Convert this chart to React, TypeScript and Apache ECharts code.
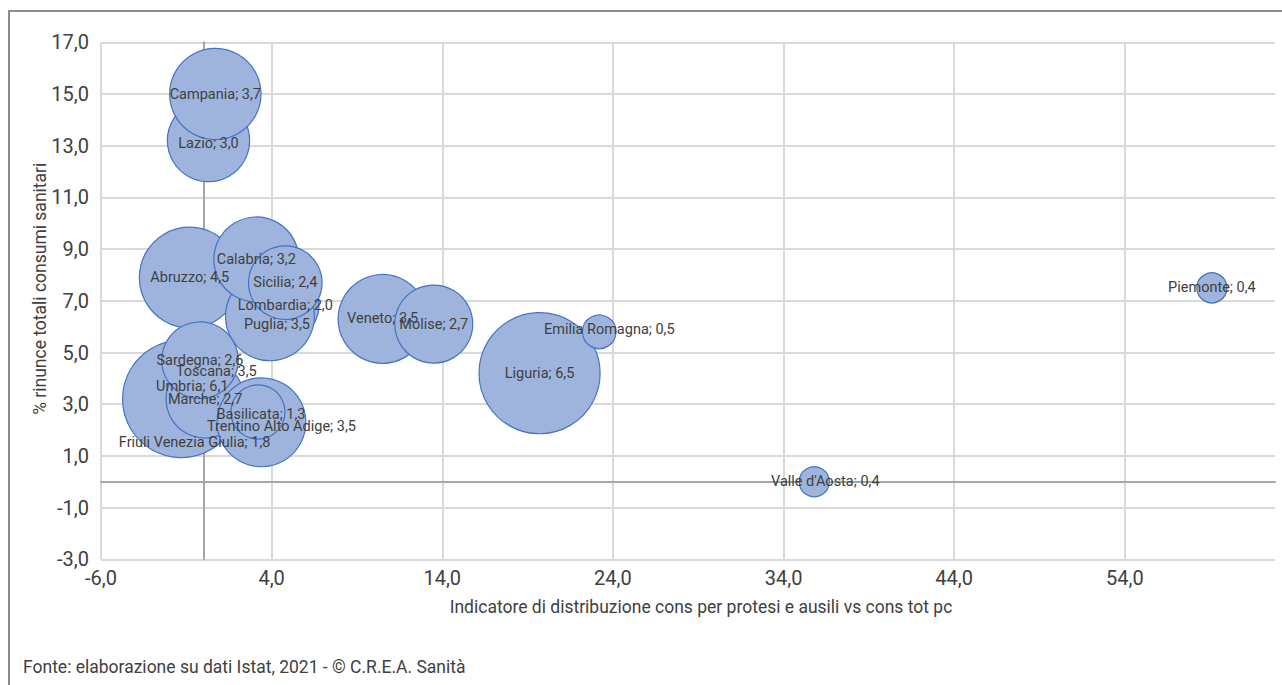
import React, { useEffect, useRef } from "react";
import * as echarts from "echarts";

// Regions, in drawing order (later bubbles sit on top of earlier ones)
const regions = [
  "Lazio", "Campania", "Abruzzo", "Lombardia", "Puglia", "Calabria", "Sicilia",
  "Veneto", "Molise", "Liguria", "Emilia Romagna", "Piemonte", "Valle d'Aosta",
  "Toscana", "Friuli Venezia Giulia", "Umbria", "Marche", "Sardegna",
  "Trentino Alto Adige", "Basilicata",
];
// Indicatore di distribuzione cons per protesi e ausili vs cons tot pc
const distribution = [
  0.3, 0.7, -0.8, 4.8, 3.9, 3.1, 4.8,
  10.5, 13.5, 19.7, 23.2, 59.1, 35.8,
  -1.0, -1.1, -1.3, 0.1, -0.2,
  3.4, 3.2,
];
// % rinunce totali consumi sanitari
const renunciation = [
  13.2, 15.0, 7.9, 6.8, 6.4, 8.6, 7.7,
  6.3, 6.1, 4.2, 5.8, 7.5, 0.0,
  3.4, 2.6, 3.2, 3.2, 4.7,
  2.3, 2.7,
];
// Bubble size values
const bubbleSize = [
  3.0, 3.7, 4.5, 2.0, 3.5, 3.2, 2.4,
  3.5, 2.7, 6.5, 0.5, 0.4, 0.4,
  3.5, 1.8, 6.1, 2.7, 2.6,
  3.5, 1.3,
];

const xTicks = [-6, 4, 14, 24, 34, 44, 54];
const yTicks = [-3, -1, 1, 3, 5, 7, 9, 11, 13, 15, 17];

const X_MIN = -6;
const X_MAX = 62.8;
const Y_MIN = -3;
const Y_MAX = 17;

// Pixel nudges for crowded labels
const labelShift: Record<string, [number, number]> = {
  Lazio: [0, 3],
  Puglia: [7, 8],
  "Emilia Romagna": [10, -2],
  "Valle d'Aosta": [11, 0],
  Toscana: [30, -22],
  "Friuli Venezia Giulia": [10, 28],
  Umbria: [11, -13],
  "Trentino Alto Adige": [20, 4],
  Basilicata: [3, 3],
};

const FONT = "Roboto, 'Liberation Sans', sans-serif";
const TEXT = "#404040";
const GRID = "#d9d9d9";
const ZERO = "#a6a6a6";

const fmt = (v: number) => v.toFixed(1).replace(".", ",");

export default function App() {
  const ref = useRef<HTMLDivElement>(null);

  useEffect(() => {
    if (!ref.current) return;
    const chart = echarts.init(ref.current, null, { renderer: "svg" });

    const points = regions.map((name, i) => {
      const shift = labelShift[name];
      return {
        name,
        value: [distribution[i], renunciation[i], bubbleSize[i]],
        label: shift ? { offset: shift } : undefined,
      };
    });

    const hiddenAxisParts = {
      axisTick: { show: false },
      axisLabel: { show: false },
      splitLine: { show: false },
    };

    chart.setOption({
      animation: false,
      grid: {
        left: 101,
        top: 42.3,
        right: 7,
        bottom: 125.7,
        outerBoundsMode: "none",
      },
      xAxis: [
        {
          type: "value",
          min: X_MIN,
          max: X_MAX,
          position: "bottom",
          axisLine: { show: false, onZero: false },
          axisTick: { show: false, customValues: xTicks },
          splitLine: { show: true, lineStyle: { color: GRID, width: 2 } },
          axisLabel: {
            customValues: xTicks,
            formatter: (v: number) => fmt(v),
            color: TEXT,
            fontFamily: FONT,
            fontSize: 20,
            margin: 9,
          },
          name: "Indicatore di distribuzione cons per protesi e ausili vs cons tot pc",
          nameLocation: "middle",
          nameGap: 39,
          nameMoveOverlap: false,
          nameTextStyle: {
            color: TEXT,
            fontFamily: FONT,
            fontSize: 17.5,
            padding: [0, 0, 0, 26],
          },
        },
        {
          type: "value",
          min: X_MIN,
          max: X_MAX,
          position: "bottom",
          axisLine: { show: true, onZero: true, onZeroAxisIndex: 0, lineStyle: { color: ZERO, width: 2 } },
          ...hiddenAxisParts,
        },
      ],
      yAxis: [
        {
          type: "value",
          min: Y_MIN,
          max: Y_MAX,
          position: "left",
          axisLine: { show: false, onZero: false },
          axisTick: { show: false, customValues: yTicks },
          splitLine: { show: true, lineStyle: { color: GRID, width: 2 } },
          axisLabel: {
            customValues: yTicks,
            formatter: (v: number) => fmt(v),
            color: TEXT,
            fontFamily: FONT,
            fontSize: 20,
            margin: 12,
          },
          name: "% rinunce totali consumi sanitari",
          nameLocation: "middle",
          nameRotate: 90,
          nameGap: 52,
          nameMoveOverlap: false,
          nameTextStyle: {
            color: TEXT,
            fontFamily: FONT,
            fontSize: 17.5,
            padding: [0, 0, 0, 24],
          },
        },
        {
          type: "value",
          min: Y_MIN,
          max: Y_MAX,
          position: "left",
          axisLine: { show: true, onZero: true, onZeroAxisIndex: 0, lineStyle: { color: ZERO, width: 2 } },
          ...hiddenAxisParts,
        },
      ],
      series: [
        {
          type: "scatter",
          xAxisIndex: 0,
          yAxisIndex: 0,
          data: points,
          symbol: "circle",
          symbolSize: (val: number[]) => Math.sqrt(val[2]) * 47.5,
          itemStyle: {
            color: "#9fb4dd",
            borderColor: "#4472c4",
            borderWidth: 1.2,
            opacity: 1,
          },
          label: {
            show: true,
            position: "inside",
            formatter: (p: any) => `${p.name}; ${fmt(p.value[2])}`,
            color: TEXT,
            fontFamily: FONT,
            fontSize: 14.5,
          },
          emphasis: { disabled: true },
          silent: true,
        },
      ],
      graphic: [
        {
          type: "rect",
          shape: { x: 9, y: 11, width: 1300, height: 700 },
          style: { fill: "none", stroke: "#8c8c8c", lineWidth: 2 },
          silent: true,
        },
        {
          type: "text",
          left: 23,
          top: 658,
          style: {
            text: "Fonte: elaborazione su dati Istat, 2021 - © C.R.E.A. Sanità",
            fill: TEXT,
            font: `17.5px ${FONT}`,
          },
        },
      ],
    });

    return () => chart.dispose();
  }, []);

  return (
    <div
      ref={ref}
      style={{ position: "absolute", left: 0, top: 0, width: 1282, height: 685, background: "#fff" }}
    />
  );
}
